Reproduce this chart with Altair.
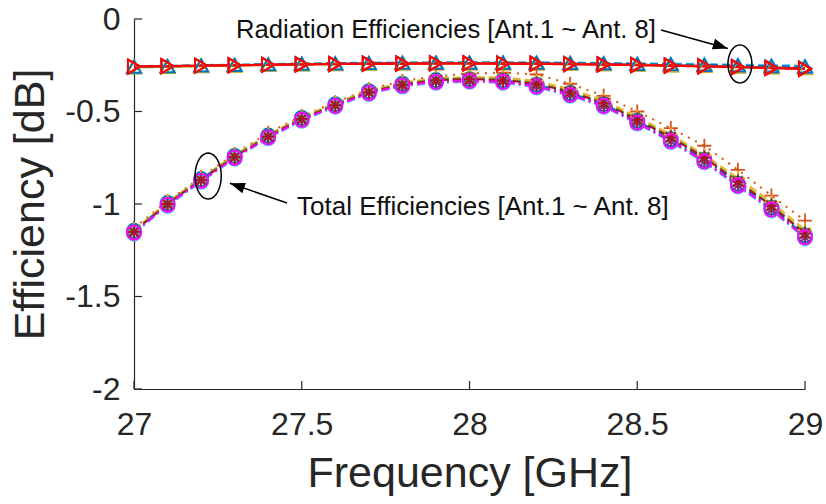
import math
import altair as alt
import pandas as pd

# ---------------- data ----------------
freq = [27.0, 27.1, 27.2, 27.3, 27.4, 27.5, 27.6, 27.7, 27.8, 27.9, 28.0,
        28.1, 28.2, 28.3, 28.4, 28.5, 28.6, 28.7, 28.8, 28.9, 29.0]

rad_1 = [-0.255, -0.252, -0.249, -0.246, -0.243, -0.240, -0.238, -0.236, -0.234, -0.233, -0.233,
         -0.233, -0.234, -0.235, -0.237, -0.239, -0.241, -0.243, -0.246, -0.249, -0.252]
rad_2 = [-0.262, -0.259, -0.255, -0.252, -0.249, -0.246, -0.244, -0.242, -0.241, -0.240, -0.240,
         -0.240, -0.241, -0.243, -0.245, -0.248, -0.251, -0.254, -0.258, -0.262, -0.266]
rad_3 = [-0.260, -0.257, -0.254, -0.251, -0.248, -0.245, -0.243, -0.241, -0.240, -0.239, -0.239,
         -0.240, -0.241, -0.242, -0.244, -0.247, -0.250, -0.253, -0.257, -0.261, -0.265]
rad_4 = [-0.258, -0.255, -0.251, -0.248, -0.245, -0.242, -0.240, -0.238, -0.237, -0.236, -0.236,
         -0.236, -0.237, -0.238, -0.240, -0.243, -0.245, -0.248, -0.251, -0.255, -0.258]
rad_5 = [-0.259, -0.256, -0.253, -0.250, -0.247, -0.244, -0.242, -0.240, -0.239, -0.238, -0.238,
         -0.239, -0.240, -0.242, -0.244, -0.247, -0.250, -0.254, -0.258, -0.262, -0.267]
rad_6 = [-0.257, -0.255, -0.252, -0.249, -0.247, -0.244, -0.242, -0.241, -0.240, -0.239, -0.239,
         -0.240, -0.241, -0.243, -0.245, -0.248, -0.251, -0.255, -0.259, -0.264, -0.268]
rad_7 = [-0.258, -0.256, -0.253, -0.251, -0.248, -0.246, -0.244, -0.242, -0.241, -0.240, -0.240,
         -0.241, -0.242, -0.244, -0.246, -0.249, -0.252, -0.256, -0.260, -0.265, -0.270]
rad_8 = [-0.256, -0.254, -0.252, -0.250, -0.248, -0.246, -0.244, -0.243, -0.242, -0.241, -0.241,
         -0.242, -0.243, -0.245, -0.247, -0.250, -0.253, -0.257, -0.261, -0.266, -0.271]

tot_1 = [-1.145, -0.995, -0.865, -0.740, -0.630, -0.535, -0.460, -0.390, -0.350, -0.330, -0.325,
         -0.330, -0.355, -0.400, -0.460, -0.550, -0.650, -0.760, -0.890, -1.020, -1.170]
tot_2 = [-1.130, -0.985, -0.855, -0.730, -0.615, -0.525, -0.450, -0.380, -0.335, -0.310, -0.295,
         -0.290, -0.300, -0.350, -0.415, -0.500, -0.590, -0.685, -0.815, -0.955, -1.090]
tot_3 = [-1.140, -0.990, -0.860, -0.735, -0.625, -0.530, -0.455, -0.385, -0.345, -0.320, -0.315,
         -0.315, -0.335, -0.380, -0.440, -0.530, -0.625, -0.735, -0.860, -0.990, -1.140]
tot_4 = [-1.155, -1.005, -0.875, -0.750, -0.640, -0.545, -0.470, -0.400, -0.360, -0.340, -0.335,
         -0.340, -0.365, -0.410, -0.470, -0.560, -0.660, -0.770, -0.900, -1.030, -1.180]
tot_5 = [-1.145, -0.995, -0.865, -0.740, -0.630, -0.535, -0.460, -0.390, -0.350, -0.325, -0.320,
         -0.325, -0.345, -0.390, -0.450, -0.540, -0.635, -0.745, -0.875, -1.005, -1.155]
tot_6 = [-1.160, -1.010, -0.880, -0.755, -0.645, -0.550, -0.475, -0.405, -0.365, -0.345, -0.340,
         -0.345, -0.370, -0.415, -0.475, -0.565, -0.665, -0.775, -0.905, -1.035, -1.185]
tot_7 = [-1.150, -1.000, -0.870, -0.745, -0.635, -0.540, -0.465, -0.395, -0.355, -0.330, -0.325,
         -0.330, -0.350, -0.395, -0.455, -0.545, -0.640, -0.750, -0.880, -1.010, -1.160]
tot_8 = [-1.155, -1.005, -0.875, -0.750, -0.640, -0.545, -0.470, -0.400, -0.360, -0.340, -0.335,
         -0.340, -0.365, -0.410, -0.470, -0.560, -0.660, -0.770, -0.900, -1.030, -1.180]

x_ticks = [27, 27.5, 28, 28.5, 29]
y_ticks = [-2, -1.5, -1, -0.5, 0]

# annotation anchors (data coordinates)
rad_label = ["Radiation Efficiencies [Ant.1 ~ Ant. 8]"]
rad_label_x = [27.304]
rad_label_y = [-0.062]
tot_label = ["Total Efficiencies [Ant.1 ~ Ant. 8]"]
tot_label_x = [27.486]
tot_label_y = [-1.016]
arrow_x = [28.571, 27.456]
arrow_y = [-0.059, -0.995]
arrow_x2 = [28.770, 27.286]
arrow_y2 = [-0.159, -0.888]
arrow_angle = [17, 199]
ell_x = [27.221, 28.806]
ell_y = [-0.849, -0.243]

# ---------------- styling ----------------
rad_series = [rad_1, rad_2, rad_3, rad_4, rad_5, rad_6, rad_7, rad_8]
tot_series = [tot_1, tot_2, tot_3, tot_4, tot_5, tot_6, tot_7, tot_8]
rad_names = [f"Rad. Ant.{i}" for i in range(1, 9)]
tot_names = [f"Tot. Ant.{i}" for i in range(1, 9)]

PLUS = "M-1,0L1,0M0,-1L0,1"
AST = "M-1,0L1,0M0,-1L0,1M-0.7,-0.7L0.7,0.7M-0.7,0.7L0.7,-0.7"

rad_colors = ["#4DBEEE", "#77AC30", "#EDB120", "#0072BD", "#7E2F8E", "#A2142F", "#D95319", "#FF0000"]
rad_shapes = ["triangle-up"] * 4 + ["triangle-right"] * 4
rad_dash = [[8, 4], [1, 0], [1, 0], [8, 4], [1, 0], [1, 0], [1, 0], [1, 0]]
rad_size = [200] * 8

tot_colors = ["#0072BD", "#D95319", "#EDB120", "#7E2F8E", "#77AC30", "#4DBEEE", "#A2142F", "#FF00FF"]
tot_shapes = ["circle", PLUS, PLUS, AST, AST, "circle", AST, "circle"]
tot_dash = [[8, 4, 2, 4], [2, 6], [8, 4], [8, 4, 2, 4], [8, 4], [8, 4, 2, 4], [8, 4], [8, 4, 2, 4]]
tot_size = [180, 256, 256, 170, 170, 180, 170, 180]

names = rad_names + tot_names
colors = rad_colors + tot_colors
shapes = rad_shapes + tot_shapes
dashes = rad_dash + tot_dash
sizes = rad_size + tot_size

rows = []
for k, (nm, vals) in enumerate(zip(names, rad_series + tot_series)):
    for f, v in zip(freq, vals):
        rows.append({"f": f, "v": v, "s": nm, "k": k})
df = pd.DataFrame(rows)

W, H = 671, 370
FONT = "Liberation Sans"
TXT = "#262626"

xs = alt.Scale(domain=[27, 29], nice=False, zero=False)
ys = alt.Scale(domain=[-2, 0], nice=False, zero=False)

x_axis = alt.Axis(values=x_ticks, ticks=False, tickSize=0, grid=False, labelFlush=False,
                  labelFontSize=32, labelPadding=20, labelFont=FONT, labelColor=TXT,
                  labelExpr="'' + datum.value",
                  titleFontSize=43, titleFont=FONT, titleColor=TXT,
                  titleFontWeight="normal", titlePadding=12,
                  domainColor=TXT, domainWidth=1.2)
y_axis = alt.Axis(values=y_ticks, ticks=False, tickSize=0, grid=False, labelFlush=False,
                  labelFontSize=32, labelPadding=14, labelFont=FONT, labelColor=TXT,
                  labelExpr="'' + datum.value",
                  titleFontSize=43, titleFont=FONT, titleColor=TXT,
                  titleFontWeight="normal", titlePadding=12,
                  domainColor=TXT, domainWidth=1.2)


def X(field):
    return alt.X(field, scale=xs, axis=x_axis, title="Frequency [GHz]")


def Y(field):
    return alt.Y(field, scale=ys, axis=y_axis, title="Efficiency [dB]")


col = alt.Color("s:N", scale=alt.Scale(domain=names, range=colors), legend=None)

lines = alt.Chart(df).mark_line(strokeWidth=2).encode(
    x=X("f:Q"), y=Y("v:Q"), color=col,
    strokeDash=alt.StrokeDash("s:N", scale=alt.Scale(domain=names, range=dashes), legend=None),
    order="f:Q",
)

points = alt.Chart(df).mark_point(filled=False, strokeWidth=1.8, opacity=1).encode(
    x=X("f:Q"), y=Y("v:Q"),
    color=col,
    shape=alt.Shape("s:N", scale=alt.Scale(domain=names, range=shapes), legend=None),
    size=alt.Size("s:N", scale=alt.Scale(domain=names, range=sizes), legend=None),
)

# inward ticks
xt = alt.Chart(pd.DataFrame({"t": x_ticks})).mark_rule(color=TXT, strokeWidth=1.2).encode(
    x=X("t:Q"), y=alt.value(H), y2=alt.value(H - 8))
yt = alt.Chart(pd.DataFrame({"t": y_ticks})).mark_rule(color=TXT, strokeWidth=1.2).encode(
    y=Y("t:Q"), x=alt.value(0), x2=alt.value(8))


# annotations
def ellipse_path(ratio, n=48):
    pts = []
    for i in range(n):
        a = 2 * math.pi * i / n
        pts.append(f"{ratio * math.cos(a):.4f},{math.sin(a):.4f}")
    return "M" + "L".join(pts) + "Z"


ell_df = pd.DataFrame({"x": ell_x, "y": ell_y})
ell_left = alt.Chart(ell_df.iloc[[0]]).mark_point(
    shape=ellipse_path(0.57), size=2116, filled=False, color="#000000", strokeWidth=1.5, opacity=1
).encode(x=X("x:Q"), y=Y("y:Q"))
ell_right = alt.Chart(ell_df.iloc[[1]]).mark_point(
    shape=ellipse_path(0.63), size=1444, filled=False, color="#000000", strokeWidth=1.5, opacity=1
).encode(x=X("x:Q"), y=Y("y:Q"))

arr_df = pd.DataFrame({"x": arrow_x, "y": arrow_y, "x2": arrow_x2, "y2": arrow_y2, "a": arrow_angle})
arr_line = alt.Chart(arr_df).mark_rule(color="#000000", strokeWidth=1.5).encode(
    x=X("x:Q"), y=Y("y:Q"), x2="x2:Q", y2="y2:Q")
arr_head = alt.Chart(arr_df).mark_point(
    shape="M0,0L-1,-0.36L-1,0.36Z", size=900, filled=True, color="#000000", opacity=1
).encode(x=X("x2:Q"), y=Y("y2:Q"), angle=alt.Angle("a:Q", scale=None))

rad_txt = alt.Chart(pd.DataFrame({"x": rad_label_x, "y": rad_label_y, "t": rad_label})).mark_text(
    align="left", baseline="middle", fontSize=25.6, font=FONT, color="#111111"
).encode(x=X("x:Q"), y=Y("y:Q"), text="t:N")
tot_txt = alt.Chart(pd.DataFrame({"x": tot_label_x, "y": tot_label_y, "t": tot_label})).mark_text(
    align="left", baseline="middle", fontSize=26, font=FONT, color="#111111"
).encode(x=X("x:Q"), y=Y("y:Q"), text="t:N")

chart = alt.layer(
    lines, points, xt, yt, ell_left, ell_right, arr_line, arr_head, rad_txt, tot_txt
).properties(
    width=W, height=H,
    autosize=alt.AutoSizeParams(type="none"),
    padding={"left": 134, "top": 19, "right": 21, "bottom": 115},
    background="#ffffff",
).configure_view(stroke=None)

chart.save("out.html", embed_options={"renderer": "svg", "actions": False})
